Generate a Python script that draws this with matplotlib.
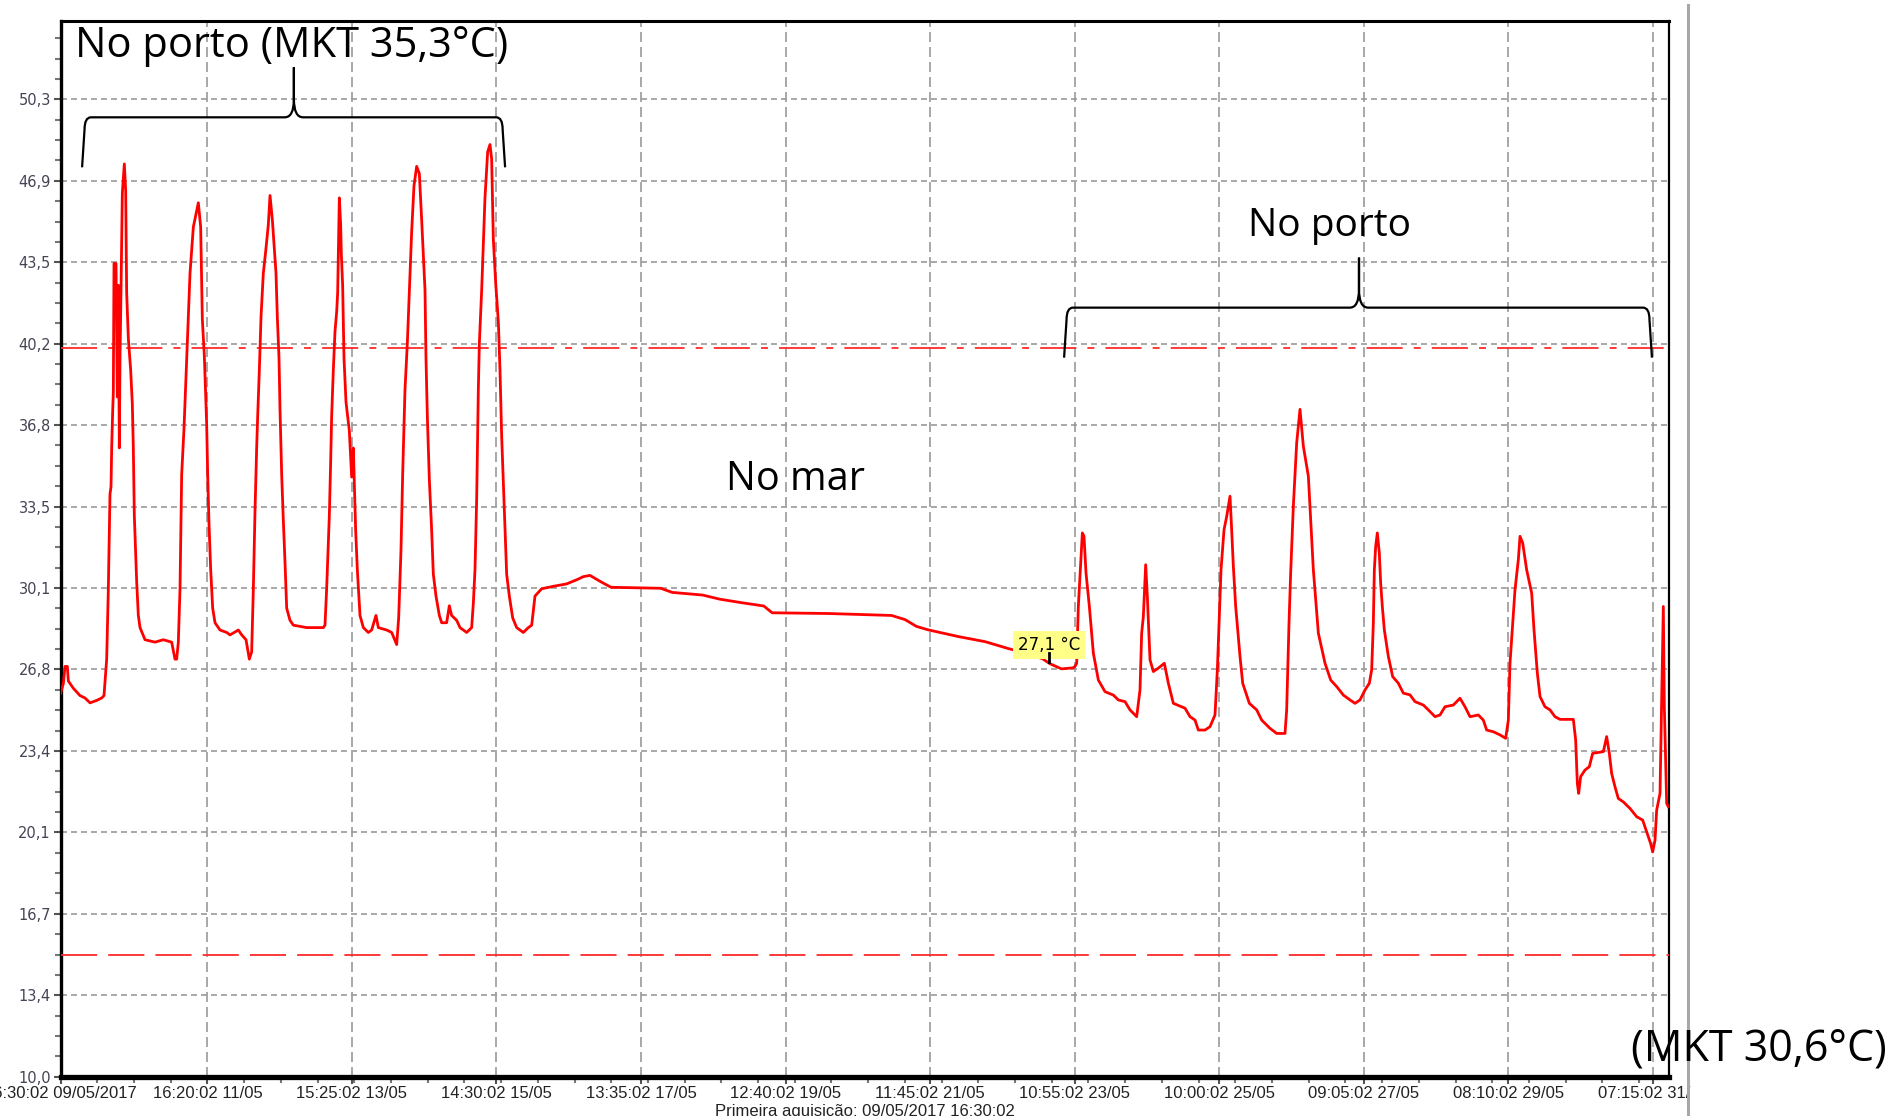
import matplotlib
matplotlib.use("Agg")
import matplotlib.pyplot as plt
import pandas as pd
from matplotlib.path import Path
from matplotlib.patches import PathPatch, Rectangle
from matplotlib.lines import Line2D
from matplotlib.ticker import AutoMinorLocator

# Dados (horas desde a primeira aquisição, temperatura em °C)
horas = [0.0, 0.9, 1.43, 2.19, 2.52, 4.15, 6.32, 7.95, 9.58, 11.75, 13.38, 14.14,
         15.01, 15.55, 16.09, 16.42, 16.64, 16.96, 17.18, 17.40, 18.05, 18.48, 18.81,
         19.13, 19.35, 19.68, 20.11, 20.76, 21.20, 21.52, 22.07, 22.83, 23.37, 23.69,
         24.02, 24.78, 25.32, 25.87, 27.50, 30.75, 33.47, 36.18, 37.27, 37.81, 38.35,
         38.90, 39.44, 40.20, 41.07, 41.61, 42.16, 43.24, 44.87, 45.63, 46.17, 46.82,
         47.58, 47.91, 48.34, 48.89, 49.54, 50.30, 51.93, 54.10, 55.19, 57.90, 58.99,
         60.40, 61.48, 62.24, 62.79, 63.33, 63.87, 64.20, 64.74, 65.29, 66.04, 66.81,
         67.67, 68.22, 68.98, 70.17, 70.60, 71.15, 71.47, 72.02, 72.56, 73.10, 73.65,
         74.73, 75.82, 80.16, 85.59, 86.13, 86.67, 87.54, 87.97, 88.30, 88.84, 89.39,
         89.93, 90.26, 90.80, 91.23, 91.45, 91.88, 92.32, 92.97, 94.06, 94.82, 95.36,
         96.12, 96.66, 97.53, 98.62, 100.25, 101.33, 102.74, 103.50, 106.22, 107.85,
         109.48, 110.13, 110.89, 111.43, 112.19, 112.95, 113.82, 114.36, 115.12, 115.99,
         116.86, 117.62, 118.71, 119.03, 119.47, 120.12, 120.88, 121.42, 122.29, 123.38,
         124.14, 125.76, 126.63, 127.39, 129.02, 130.11, 132.28, 133.91, 134.45, 135.00,
         135.54, 136.08, 136.41, 137.17, 138.25, 139.12, 139.88, 140.42, 140.97, 141.73,
         142.60, 143.14, 143.68, 144.44, 145.31, 146.18, 147.27, 148.57, 150.74, 152.37,
         153.46, 154.54, 156.71, 160.51, 164.86, 168.66, 170.29, 172.46, 176.23, 179.33,
         195.50, 199.23, 209.17, 214.77, 221.61, 229.07, 231.80, 250.20, 270.72, 275.07,
         278.80, 282.53, 287.50, 292.47, 301.18, 308.64, 314.85, 319.83, 322.31, 326.04,
         329.77, 330.46, 331.00, 331.54, 332.09, 332.85, 333.39, 334.04, 335.13, 336.43,
         338.06, 340.23, 342.94, 344.57, 346.75, 348.37, 350.55, 351.63, 352.17, 352.72,
         353.48, 354.02, 354.89, 355.98, 357.60, 359.56, 360.86, 362.49, 366.29, 367.92,
         369.55, 370.63, 372.81, 374.44, 376.06, 376.83, 377.48, 378.02, 379.00, 379.87,
         380.95, 381.49, 382.04, 382.80, 384.21, 385.08, 387.25, 389.64, 391.27, 393.98,
         396.16, 398.87, 399.41, 400.17, 400.71, 401.58, 402.67, 403.75, 404.84, 406.47,
         408.10, 409.73, 411.90, 413.75, 415.70, 417.87, 420.04, 421.67, 423.30, 424.92,
         426.34, 427.10, 427.64, 427.97, 428.40, 428.94, 429.59, 430.03, 430.57, 431.22,
         432.53, 433.94, 435.78, 437.41, 439.58, 441.21, 443.93, 445.56, 447.73, 449.36,
         450.99, 453.70, 455.87, 457.50, 459.13, 461.85, 463.47, 464.56, 466.73, 468.90,
         470.75, 471.62, 472.16, 473.03, 473.79, 474.88, 475.42, 476.29, 477.59, 479.22,
         479.98, 481.07, 481.94, 483.56, 485.19, 486.82, 488.45, 492.79, 493.55, 494.10,
         494.53, 495.18, 496.59, 498.00, 499.09, 502.57, 503.65, 504.52, 505.28, 506.37,
         507.45, 509.08, 511.25, 513.43, 515.38, 516.69, 517.99, 518.64, 519.40, 519.94,
         521.03, 521.35, 522.11, 522.44, 523.20, 523.74]
temperatura = [25.8, 26.2, 26.9, 26.9, 26.3, 26.0, 25.7, 25.6, 25.4, 25.5, 25.6, 25.7,
               27.2, 30.1, 34.0, 34.3, 35.9, 37.4, 38.2, 43.5, 43.5, 38.0, 42.6,
               35.9, 39.6, 42.4, 46.4, 47.6, 46.5, 42.3, 40.4, 39.1, 37.7, 35.9,
               33.1, 30.4, 29.0, 28.5, 28.0, 27.9, 28.0, 27.9, 27.2, 27.2, 27.9,
               30.1, 34.8, 36.7, 39.6, 41.3, 43.1, 45.0, 46.0, 45.0, 41.2, 39.7,
               36.9, 34.8, 32.8, 30.9, 29.3, 28.7, 28.4, 28.3, 28.2, 28.4, 28.2,
               28.0, 27.2, 27.5, 30.1, 33.3, 35.9, 37.2, 39.1, 41.3, 43.1, 44.0,
               45.1, 46.3, 45.3, 43.1, 41.3, 39.6, 37.5, 34.8, 32.9, 31.2, 29.3,
               28.8, 28.6, 28.5, 28.5, 28.6, 30.1, 33.1, 35.3, 37.2, 39.1, 40.7,
               41.5, 42.3, 46.2, 45.1, 43.9, 42.6, 39.6, 37.8, 36.6, 34.7, 35.9,
               32.5, 30.9, 29.0, 28.5, 28.3, 28.4, 29.0, 28.5, 28.4, 28.3,
               27.8, 28.9, 31.7, 34.8, 38.3, 40.2, 43.1, 44.8, 46.7, 47.5,
               47.2, 45.3, 42.4, 39.6, 37.2, 34.6, 32.5, 30.7, 29.8, 29.0,
               28.7, 28.7, 29.4, 29.0, 28.8, 28.5, 28.3, 28.5, 29.5, 30.9,
               33.8, 38.3, 40.2, 42.4, 46.2, 48.1, 48.4, 47.8, 44.5, 42.7,
               41.1, 39.1, 36.4, 33.8, 30.7, 29.8, 28.9, 28.5, 28.3, 28.5,
               28.6, 29.8, 30.1, 30.2, 30.3, 30.5, 30.6, 30.65, 30.37, 30.16,
               30.12, 29.95, 29.84, 29.67, 29.53, 29.39, 29.11, 29.08, 29.0, 28.83,
               28.55, 28.41, 28.27, 28.13, 27.92, 27.64, 27.43, 27.22, 27.01, 26.80,
               26.84, 26.90, 27.03, 29.37, 30.61, 32.40, 32.26, 30.75, 29.37, 27.45,
               26.34, 25.86, 25.72, 25.52, 25.45, 25.11, 24.83, 25.93, 28.27, 28.96,
               31.09, 29.78, 27.17, 26.69, 26.83, 27.03, 26.21, 25.38, 25.18, 24.83,
               24.69, 24.28, 24.28, 24.42, 24.90, 26.76, 28.96, 30.88, 32.53, 33.08,
               33.91, 32.53, 31.02, 29.37, 27.31, 26.21, 25.38, 25.11, 24.69, 24.35,
               24.14, 24.14, 25.11, 28.68, 30.75, 33.50, 36.11, 37.49, 35.97, 34.74,
               30.88, 28.27, 27.03, 26.34, 26.07, 25.72, 25.52, 25.38, 25.52, 25.93,
               26.21, 26.76, 28.68, 30.88, 31.84, 32.40, 31.57, 30.33, 29.37, 28.41,
               27.31, 26.48, 26.21, 25.80, 25.73, 25.45, 25.31, 25.11, 24.83, 24.90,
               25.24, 25.31, 25.59, 25.24, 24.83, 24.90, 24.69, 24.28, 24.21, 24.08,
               23.94, 24.69, 27.03, 28.68, 30.06, 31.30, 32.26, 31.99, 30.88, 29.92,
               28.41, 26.62, 25.66, 25.24, 25.11, 24.83, 24.72, 24.72, 23.87, 22.08,
               21.67, 22.36, 22.63, 22.77, 23.32, 23.39, 24.01, 23.32, 22.49, 21.94,
               21.46, 21.32, 21.05, 20.71, 20.57, 20.09, 19.60, 19.26, 19.74, 20.98,
               21.67, 24.01, 29.37, 25.24, 21.26, 21.12]

inicio = pd.Timestamp("2017-05-09 16:30:02")
datas_ticks = ["2017-05-09 16:30:02", "2017-05-11 16:20:02", "2017-05-13 15:25:02",
               "2017-05-15 14:30:02", "2017-05-17 13:35:02", "2017-05-19 12:40:02",
               "2017-05-21 11:45:02", "2017-05-23 10:55:02", "2017-05-25 10:00:02",
               "2017-05-27 09:05:02", "2017-05-29 08:10:02", "2017-05-31 07:15:02"]
rotulos_x = ["16:30:02 09/05/2017", "16:20:02 11/05", "15:25:02 13/05", "14:30:02 15/05",
             "13:35:02 17/05", "12:40:02 19/05", "11:45:02 21/05", "10:55:02 23/05",
             "10:00:02 25/05", "09:05:02 27/05", "08:10:02 29/05", "07:15:02 31/05"]
rotulos_y = ["10,0", "13,4", "16,7", "20,1", "23,4", "26,8", "30,1", "33,5",
             "36,8", "40,2", "43,5", "46,9", "50,3"]
y_min, y_passo = 10.0, 3.355
limite_sup, limite_inf = 40.0, 15.0
fim_horas = 523.86

ticks_x = [(pd.Timestamp(d) - inicio).total_seconds() / 3600 for d in datas_ticks]
ticks_y = [y_min + i * y_passo for i in range(len(rotulos_y))]

plt.rcParams['lines.scale_dashes'] = False
W, H = 1894, 1116
fig = plt.figure(figsize=(W / 100, H / 100), dpi=100)
ax = fig.add_axes([60.6 / W, 1 - 1076.7 / H, (1668.7 - 60.6) / W, (1076.7 - 20.7) / H])

ax.plot(horas, temperatura, color='#ff0000', lw=2.0, zorder=4)
ax.axhline(limite_sup, color='#ff2a2a', lw=1.3, dashes=(26, 8, 5, 8), zorder=3)
ax.axhline(limite_inf, color='#ff2a2a', lw=1.3, dashes=(26, 8), zorder=3)

ax.set_xlim(0, fim_horas)
ax.set_ylim(y_min, 53.5)
ax.set_xticks(ticks_x)
ax.set_xticklabels(rotulos_x, family='Liberation Sans', fontsize=12, color='#222222')
ax.set_yticks(ticks_y)
ax.set_yticklabels(rotulos_y, family='DejaVu Sans', fontsize=10.5, color='#444455')
ax.xaxis.set_minor_locator(AutoMinorLocator(4))
ax.yaxis.set_minor_locator(AutoMinorLocator(4))
ax.tick_params(axis='both', which='major', length=5, width=1.5, color='#555555', pad=2)
ax.tick_params(axis='both', which='minor', length=4, width=1.5, color='#777777')

# grades tracejadas
for t in ticks_y[1:]:
    ax.axhline(t, color='#999999', lw=1.2, dashes=(4.3, 2.9), zorder=1)
for t in ticks_x[1:]:
    ax.axvline(t, color='#999999', lw=1.2, dashes=(7.2, 3.6), zorder=1)

for lado, lw in [('left', 2.4), ('bottom', 3.8), ('top', 2.2), ('right', 1.6)]:
    ax.spines[lado].set_linewidth(lw)
    ax.spines[lado].set_color('black')


def chave(x0, x1, xc, y_end, y_h, y_tip):
    dx, dy, tx, ty = 2.9, 0.5, 3.0, 0.75
    verts = [(x0, y_end), (x0 + 0.8, y_h - dy), (x0 + 0.8, y_h), (x0 + dx, y_h),
             (xc - tx, y_h), (xc, y_h), (xc, y_h + ty), (xc, y_tip),
             (xc, y_h + ty), (xc, y_h), (xc + tx, y_h), (x1 - dx, y_h),
             (x1 - 0.8, y_h), (x1 - 0.8, y_h - dy), (x1, y_end)]
    codes = [Path.MOVETO, Path.LINETO, Path.CURVE3, Path.CURVE3,
             Path.LINETO, Path.CURVE3, Path.CURVE3, Path.LINETO,
             Path.LINETO, Path.CURVE3, Path.CURVE3, Path.LINETO,
             Path.CURVE3, Path.CURVE3, Path.LINETO]
    ax.add_patch(PathPatch(Path(verts, codes), fill=False, lw=1.6,
                           edgecolor='black', clip_on=False, zorder=5))


chave(7.0, 144.8, 76.0, 47.46, 49.52, 51.58)
chave(326.9, 518.4, 422.97, 39.62, 41.68, 43.74)

fonte = dict(family='Open Sans', color='black', ha='center', va='center')
fig.text(292 / W, 1 - 46 / H, "No porto (MKT 35,3°C)", fontsize=30, **fonte)
fig.text(1329 / W, 1 - 226 / H, "No porto", fontsize=28, **fonte)
fig.text(795 / W, 1 - 480 / H, "No mar", fontsize=28.5, **fonte)
fig.text(1759 / W, 1 - 1050 / H, "(MKT 30,6°C)", fontsize=31, zorder=6, **fonte)

# etiqueta amarela do cursor
ax.text(322.0, 27.8, "27,1 °C", fontsize=12, family='DejaVu Sans', ha='center', va='center',
        bbox=dict(boxstyle='square,pad=0.3', fc='#ffff88', ec='none'), zorder=6)
ax.plot([321.9, 321.9], [27.08, 27.47], color='black', lw=2, zorder=6)

fig.text(865 / W, 1 - 1104 / H, "Primeira aquisição: 09/05/2017 16:30:02",
         family='Liberation Sans', fontsize=12, ha='center', va='top', color='#222222')

# borda da janela à direita
fig.add_artist(Rectangle((1691 / W, 0), (W - 1691) / W, 36 / H, transform=fig.transFigure,
                         facecolor='white', edgecolor='none', zorder=5))
fig.add_artist(Line2D([1688 / W, 1688 / W], [0, 1 - 5 / H], transform=fig.transFigure,
                      color='#a8a8a8', lw=2.2, zorder=5))

fig.savefig("out.png", dpi=100)
